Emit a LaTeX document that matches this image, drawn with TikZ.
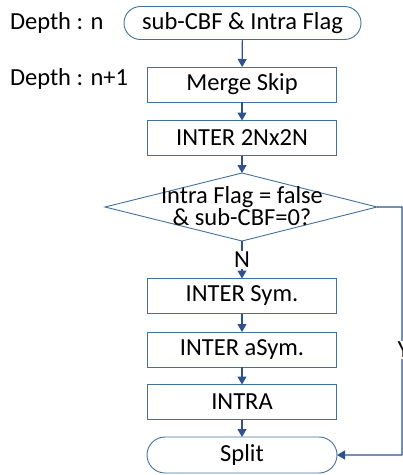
\documentclass[tikz,border=0pt]{standalone}
\usepackage{fontspec}
\setmainfont{Carlito}
\usetikzlibrary{arrows.meta,shapes.misc}
\definecolor{boxc}{RGB}{65,113,156}
\definecolor{arrc}{RGB}{47,82,143}
\begin{document}
\begin{tikzpicture}[x=1pt,y=-1pt,
  font=\fontsize{24.5}{27}\selectfont,
  every node/.style={inner sep=0pt,outer sep=0pt},
  proc/.style={draw=boxc,line width=0.9pt,minimum width=189pt,minimum height=35pt},
  term/.style={draw=boxc,line width=0.9pt,rounded rectangle,minimum height=33pt},
  arr/.style={draw=arrc,line width=1.2pt,-{Triangle[width=9pt,length=8pt]}}]
\useasboundingbox (0,0) rectangle (403,475);
\node[term,minimum width=237pt] (start) at (242.5,23) {sub-CBF \& Intra Flag};
\node[proc] (merge) at (242,84.5) {Merge Skip};
\node[proc] (inter) at (242,138) {INTER 2Nx2N};
\coordinate (dtop) at (242,173);
\coordinate (dbot) at (242,241);
\coordinate (dleft) at (105,207);
\coordinate (dright) at (377,207);
\draw[boxc,line width=0.9pt] (dtop) -- (dright) -- (dbot) -- (dleft) -- cycle;
\node[align=center,font=\fontsize{24.5}{22}\selectfont] (cond) at (242,206) {Intra Flag = false\\\& sub-CBF=0?};
\node[proc] (sym) at (242,296) {INTER Sym.};
\node[proc] (asym) at (242,349.5) {INTER aSym.};
\node[proc] (intra) at (242,402) {INTRA};
\node[term,minimum width=190pt,minimum height=36pt] (split) at (242,455) {Split};
\node[anchor=west] (d1) at (10,23) {Depth : n};
\node[anchor=west] (d2) at (10,79) {Depth : n+1};
\coordinate (r1) at (402,207);
\coordinate (r2) at (402,455);
\draw[arr] (start) -- (merge);
\draw[arr] (merge) -- (inter);
\draw[arr] (inter) -- (dtop);
\draw[arr] (dbot) -- node[fill=white,inner sep=1pt] (nlab) {N} (sym);
\draw[arr] (sym) -- (asym);
\draw[arr] (asym) -- (intra);
\draw[arr] (intra) -- (split);
\draw[arr] (dright) -- (r1) -- (r2) -- (split);
\node[fill=white,inner sep=1pt] (ylab) at (403.5,350) {Y};
\end{tikzpicture}
\end{document}
